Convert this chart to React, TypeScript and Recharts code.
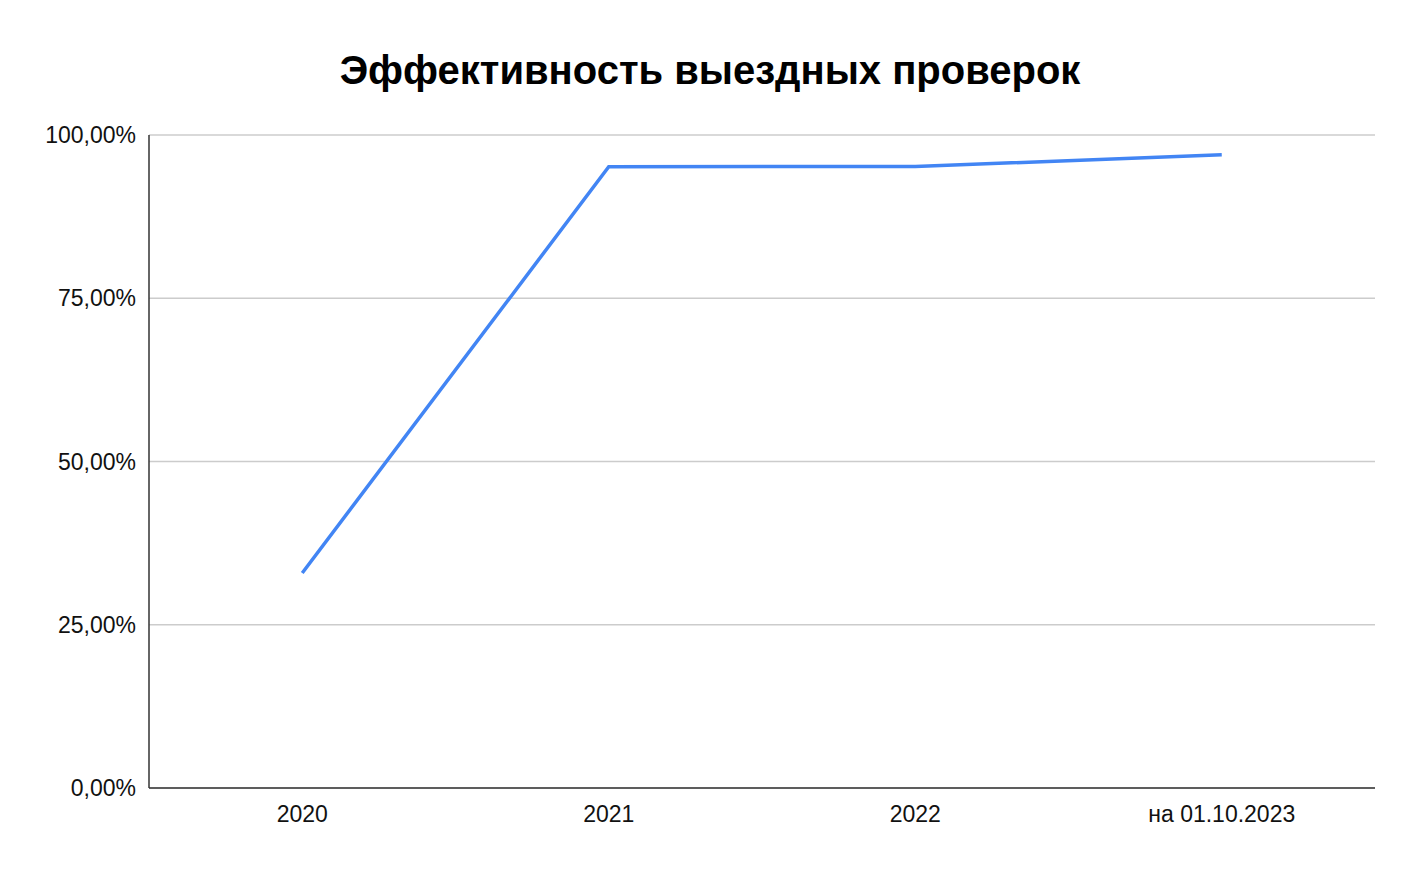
import React from 'react';
import { LineChart, Line, XAxis, YAxis, CartesianGrid } from 'recharts';

const categories = ['2020', '2021', '2022', 'на 01.10.2023'];
const efficiency = [0.3292, 0.9514, 0.9518, 0.9697];
const yTicks = [0, 0.25, 0.5, 0.75, 1];
const title = 'Эффективность выездных проверок';

const data = categories.map((c, i) => ({ name: c, value: efficiency[i] }));

const fmt = (v: number) => (v * 100).toFixed(2).replace('.', ',') + '%';

export default function App() {
  return (
    <div style={{ position: 'absolute', left: 0, top: 0, width: 1418, height: 872, background: '#fff', fontFamily: 'Arial, "Liberation Sans", sans-serif' }}>
      <div style={{ position: 'absolute', left: 0, top: 46, width: 1420, textAlign: 'center', fontSize: 40, fontWeight: 'bold', color: '#000', lineHeight: '48px' }}>
        {title}
      </div>
      <LineChart width={1418} height={872} data={data} margin={{ top: 135, right: 43, bottom: 0, left: 0 }}>
        <CartesianGrid horizontal={true} vertical={false} stroke="#cccccc" strokeWidth={1.5} />
        <XAxis
          dataKey="name"
          scale="band"
          height={84}
          axisLine={{ stroke: '#333333', strokeWidth: 1.5 }}
          tickLine={false}
          tickMargin={12}
          tick={{ fill: '#111', fontSize: 23, fontFamily: 'Arial, "Liberation Sans", sans-serif' }}
          interval={0}
        />
        <YAxis
          width={149}
          domain={[0, 1]}
          ticks={yTicks}
          tickFormatter={fmt}
          axisLine={{ stroke: '#333333', strokeWidth: 1.5 }}
          tickLine={false}
          tickMargin={7}
          tick={{ fill: '#111', fontSize: 23, fontFamily: 'Arial, "Liberation Sans", sans-serif' }}
        />
        <Line type="linear" dataKey="value" stroke="#4285F4" strokeWidth={3.5} dot={false} isAnimationActive={false} />
      </LineChart>
    </div>
  );
}
